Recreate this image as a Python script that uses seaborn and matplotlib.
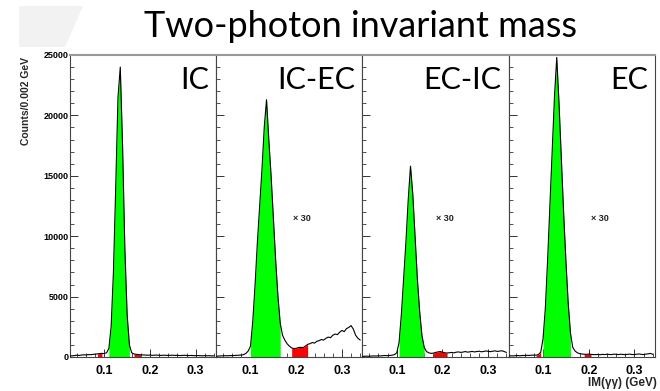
import numpy as np
import pandas as pd
import seaborn as sns
import matplotlib
matplotlib.use("Agg")
import matplotlib.pyplot as plt
from matplotlib.ticker import MultipleLocator
from matplotlib.patches import Polygon

# ---------------- data ----------------
mass = np.round(np.arange(0.025, 0.3401, 0.005), 3)   # bin centres (GeV)

counts_ic = [80, 100, 120, 150, 130, 160, 180, 170, 200, 190, 220, 230,
             260, 280, 300, 280, 350, 700, 2500, 7000, 14000, 21500, 24000, 17500,
             9000, 3500, 1000, 350, 250, 220, 200, 180,
             170, 160, 150, 160, 140, 150, 160, 140, 130, 150, 140, 130, 140, 150, 130, 140,
             120, 130, 140, 130, 120, 130, 120, 110, 120, 110, 100, 110, 100, 110, 90, 100]

counts_icec = [60, 80, 90, 100, 110, 100, 120, 110, 130, 140, 150, 160,
               200, 300, 500, 900, 3000, 6000, 9500, 12500, 15500, 19000, 21300, 18000,
               15000, 11500, 8000, 5000, 2800, 1800, 1400, 1100, 900, 750, 700, 720,
               780, 800, 780, 900, 1050,
               1100, 1200, 1150, 1300, 1350, 1450, 1400, 1550, 1650, 1600, 1800, 1900,
               1850, 2050, 2200, 2100, 2350, 2450, 2600, 2300, 1800, 1550, 1400]

counts_ecic = [50, 60, 70, 60, 80, 90, 80, 100, 90, 110, 120, 110,
               130, 150, 200, 350, 1200, 3500, 6500, 9500, 13000, 15800, 13500, 10000,
               6500, 3800, 1800, 800, 450, 350, 300, 320, 380, 420, 450, 400, 350, 330,
               350, 380, 340, 400, 420, 380, 410, 450, 400, 430, 460, 420, 450, 480,
               430, 460, 500, 470, 440, 480, 510, 460, 490, 520, 450, 380]

counts_ec = [80, 100, 90, 110, 120, 100, 130, 120, 140, 130, 150, 160,
             150, 200, 400, 1500, 4000, 8000, 12500, 17000, 21500, 24800, 21000, 16500,
             12000, 8000, 4500, 2000, 800, 500, 350, 280, 250, 230, 220, 240, 220, 200,
             200, 210, 190, 220, 200, 230, 210, 200, 240, 220, 200, 230, 210, 190,
             220, 240, 200, 210, 230, 250, 220, 200, 240, 260, 300, 220]

panel_names = ["IC", "IC-EC", "EC-IC", "EC"]
panel_counts = [counts_ic, counts_icec, counts_ecic, counts_ec]
signal_windows = [(0.110, 0.155), (0.100, 0.165), (0.105, 0.160), (0.100, 0.160)]
sideband_windows = [[(0.085, 0.095), (0.165, 0.180)],
                    [(0.190, 0.225)],
                    [(0.180, 0.210)],
                    [(0.085, 0.095), (0.190, 0.205)]]
scale_notes = [None, "× 30", "× 30", "× 30"]
note_pos = [None, (0.192, 11500), (0.185, 11500), (0.205, 11500)]
y_ticks = [0, 5000, 10000, 15000, 20000, 25000]
x_ticks = [0.1, 0.2, 0.3]

df = pd.concat([pd.DataFrame({"mass": mass, "counts": c, "region": n})
                for n, c in zip(panel_names, panel_counts)], ignore_index=True)

# ---------------- figure ----------------
sns.set_theme(style="white")
plt.rcParams["font.family"] = ["Liberation Sans", "DejaVu Sans"]

W, H = 660, 391
fig, axes = plt.subplots(1, 4, sharey=True, figsize=(W / 100, H / 100), dpi=100)
fig.subplots_adjust(left=70 / W, right=655 / W, bottom=1 - 357 / H, top=1 - 55 / H, wspace=0)

# decorative slide shape
poly = Polygon([(19 / W, 1 - 6 / H), (83 / W, 1 - 6 / H), (65 / W, 1 - 47 / H), (19 / W, 1 - 47 / H)],
               closed=True, transform=fig.transFigure, facecolor="#f2f2f2", edgecolor="none", zorder=0)
fig.patches.append(poly)

for i, (ax, name) in enumerate(zip(axes, panel_names)):
    sub = df[df["region"] == name]
    x = sub["mass"].to_numpy()
    y = sub["counts"].to_numpy()
    lo, hi = signal_windows[i]
    m = (x >= lo - 1e-9) & (x <= hi + 1e-9)
    ax.fill_between(x, y, where=m, color="#00ff00", linewidth=0, zorder=2)
    for (a, b) in sideband_windows[i]:
        mm = (x >= a - 1e-9) & (x <= b + 1e-9)
        ax.fill_between(x, y, where=mm, color="#ff0000", linewidth=0, zorder=2)
    sns.lineplot(data=sub, x="mass", y="counts", ax=ax, color="black", linewidth=0.8,
                 zorder=3, estimator=None, sort=False)
    ax.set_xlim(0.025, 0.345)
    ax.set_ylim(0, 25000)
    ax.set_xticks(x_ticks)
    ax.set_xticklabels([f"{t:.1f}" for t in x_ticks], fontsize=9, fontweight="bold")
    ax.xaxis.set_minor_locator(MultipleLocator(0.02))
    ax.set_yticks(y_ticks)
    ax.yaxis.set_minor_locator(MultipleLocator(1000))
    ax.tick_params(which="both", direction="in", bottom=True, left=True, top=False, right=False,
                   colors="#333333", labelcolor="black")
    ax.tick_params(which="major", length=6, width=0.7)
    ax.tick_params(which="minor", length=3, width=0.6)
    ax.tick_params(axis="x", pad=6)
    ax.tick_params(axis="y", pad=1, labelsize=6.5)
    for lab in ax.get_yticklabels():
        lab.set_fontweight("bold")
    ax.set_xlabel("")
    ax.set_ylabel("")
    for s in ["left", "right", "bottom"]:
        ax.spines[s].set_color("#444444")
        ax.spines[s].set_linewidth(0.8)
    ax.spines["top"].set_color("#999999")
    ax.spines["top"].set_linewidth(1.5)
    ax.text(0.95, 0.965, name, transform=ax.transAxes, ha="right", va="top",
            fontsize=22, family="Lato", color="black")
    if scale_notes[i]:
        ax.text(note_pos[i][0], note_pos[i][1], scale_notes[i], fontsize=6.5, fontweight="bold",
                ha="left", va="center", color="#222222")

fig.text(360 / W, 1 - 37 / H, "Two-photon invariant mass", ha="center", va="baseline",
         fontsize=26, family="Lato", color="black")
fig.text(26 / W, 1 - 57 / H, "Counts/0.002 GeV", rotation=90, ha="center", va="top",
         fontsize=7.5, fontweight="bold")
fig.text(657 / W, 2 / H, "IM(γγ) (GeV)", ha="right", va="bottom", fontsize=8.5, fontweight="bold")

fig.savefig("out.png", dpi=100)
